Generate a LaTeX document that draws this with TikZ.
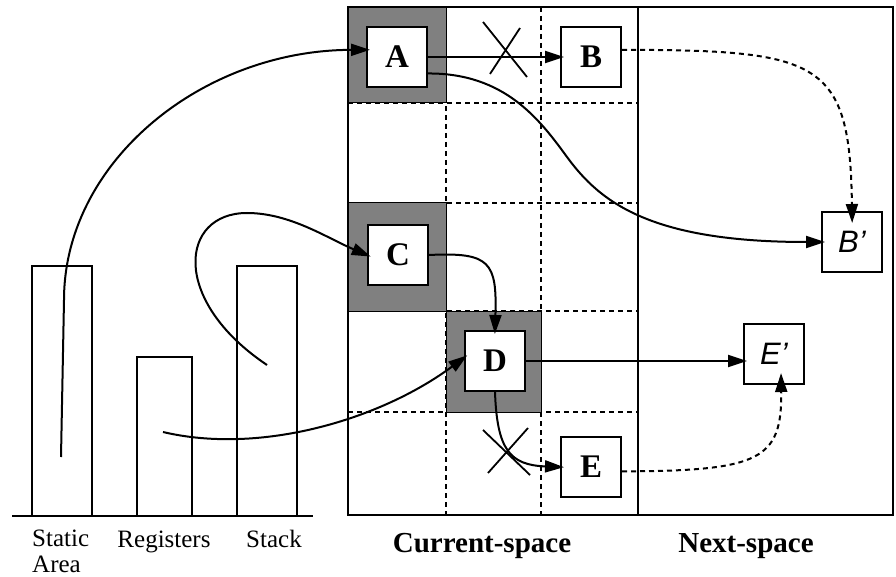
\documentclass[tikz,border=0pt]{standalone}
\usepackage{fontspec}
\setmainfont{Liberation Serif}
\setsansfont{Liberation Sans}
\usetikzlibrary{arrows.meta}

\tikzset{
	cell/.style={draw, fill=gray, line width=1pt},
	obj/.style={draw, fill=white, line width=2pt, minimum size=60pt, inner sep=0pt, font=\fontsize{33}{33}\selectfont\bfseries},
	objcopy/.style={draw, fill=white, line width=2pt, minimum size=60pt, inner sep=0pt, font=\fontsize{31}{31}\selectfont\sffamily\itshape},
	ptr/.style={line width=2pt, -{Triangle[length=19pt,width=12pt]}, shorten >=-4pt},
	fwd/.style={ptr, dash pattern=on 5pt off 4pt, shorten >=-12pt},
	grid/.style={line width=1.8pt, dash pattern=on 5pt off 4pt},
	lbl/.style={inner sep=0pt, font=\fontsize{25}{26}\selectfont},
	spacename/.style={inner sep=0pt, font=\fontsize{29}{30}\selectfont\bfseries}
}

\begin{document}
\begin{tikzpicture}[x=1pt, y=-1pt]
	\useasboundingbox (0,0) rectangle (896,577);

	% memory areas
	\draw[line width=1.8pt] (12,516) -- (313,516);
	\draw[line width=1.8pt] (32,516) rectangle (92,266);
	\draw[line width=1.8pt] (137,516) rectangle (192,357);
	\draw[line width=1.8pt] (237,516) rectangle (297,266);
	\coordinate (s1) at (61,457);
	\coordinate (s2) at (163,432);
	\coordinate (s3) at (267,365);
	\node[lbl, anchor=north west, align=left] (static) at (32,530) {Static\\Area};
	\node[lbl, anchor=base] (regs) at (164,547) {Registers};
	\node[lbl, anchor=base] (stack) at (274,547) {Stack};

	% the two spaces
	\foreach \x in {446,541}
		\draw[grid] (\x,7) -- (\x,515);
	\foreach \y in {103,203,311,412}
		\draw[grid] (348,\y) -- (638,\y);
	\draw[cell] (348,7) rectangle (446,103);
	\draw[cell] (348,203) rectangle (446,311);
	\draw[cell] (446,311) rectangle (541,412);
	\draw[line width=2.2pt] (348,7) rectangle (893,515);
	\draw[line width=2.2pt] (638,7) -- (638,515);
	\node[spacename, anchor=base] (cur) at (482,552) {Current-space};
	\node[spacename, anchor=base] (next) at (746,552) {Next-space};

	\node[obj] (A) at (397,57) {A};
	\node[obj] (B) at (591,57) {B};
	\node[obj] (C) at (398,255) {C};
	\node[obj] (D) at (495,361) {D};
	\node[obj] (E) at (591,467) {E};
	\node[objcopy] (Bp) at (852,242) {B'};
	\node[objcopy] (Ep) at (774,354) {E'};

	% roots
	\draw[ptr] (s1) -- (64,300) .. controls (64,162) and (202,50) .. (A.167);
	\draw[ptr] (s3) .. controls (170,300) and (180,213) .. (247,213) .. controls (290,213) and (327,238) .. (C.west);
	\draw[ptr] (s2) .. controls (260,455) and (380,420) .. (D.174);

	% pointers
	\draw[ptr] (A.east) -- (B.west);
	\draw[line width=1.8pt] (483,22) -- (527,77) (520,28) -- (490,74);
	\draw[ptr] (A.-28) .. controls (505,73) and (540,120) .. (567,157) .. controls (600,202) and (650,242) .. (Bp.west);
	\draw[fwd] (B.13) .. controls (820,50) and (850,60) .. (Bp.north);
	\draw[ptr] (C.east) .. controls (490,252) and (497,262) .. (D.north);
	\draw[ptr] (D.east) -- (D.east -| Ep.west);
	\draw[ptr] (D.south) .. controls (497,450) and (510,465) .. (E.west);
	\draw[line width=1.8pt] (483,430) -- (530,475) (528,428) -- (488,473);
	\draw[fwd] (E.-8) .. controls (760,471) and (782,460) .. (Ep.-77);
\end{tikzpicture}
\end{document}
